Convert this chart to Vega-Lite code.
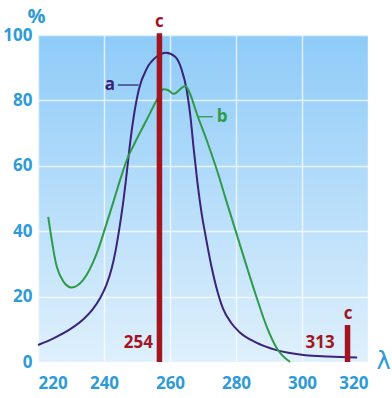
{
  "$schema": "https://vega.github.io/schema/vega-lite/v6.json",
  "width": 330,
  "height": 327,
  "autosize": "none",
  "padding": {"left": 38, "top": 35, "right": 24, "bottom": 36},
  "background": "white",
  "config": {
    "view": {"stroke": null, "fill": {"gradient": "linear", "x1": 0, "y1": 0, "x2": 0, "y2": 1, "stops": [{"offset": 0, "color": "#8ecbf8"}, {"offset": 1, "color": "#dff0fc"}]}},
    "font": "Open Sans"
  },
  "datasets": {
    "curves": [
      {"s": "a", "x": 220, "y": 5.2}, {"s": "a", "x": 225, "y": 7.4}, {"s": "a", "x": 230, "y": 10.2}, {"s": "a", "x": 234, "y": 13.3}, {"s": "a", "x": 236.5, "y": 16}, {"s": "a", "x": 238.8, "y": 19.5}, {"s": "a", "x": 240.7, "y": 23.5}, {"s": "a", "x": 242.3, "y": 28.5}, {"s": "a", "x": 243.5, "y": 34}, {"s": "a", "x": 244.6, "y": 40.5}, {"s": "a", "x": 245.7, "y": 48}, {"s": "a", "x": 246.8, "y": 57}, {"s": "a", "x": 247.8, "y": 66}, {"s": "a", "x": 249, "y": 75}, {"s": "a", "x": 250.6, "y": 83.5}, {"s": "a", "x": 253, "y": 89.8}, {"s": "a", "x": 256, "y": 93.4}, {"s": "a", "x": 258.8, "y": 94.6}, {"s": "a", "x": 261.5, "y": 93.4}, {"s": "a", "x": 263.5, "y": 89.5}, {"s": "a", "x": 265, "y": 83.5}, {"s": "a", "x": 266.2, "y": 75}, {"s": "a", "x": 267.2, "y": 65}, {"s": "a", "x": 268.3, "y": 55}, {"s": "a", "x": 269.5, "y": 46}, {"s": "a", "x": 270.8, "y": 38.5}, {"s": "a", "x": 272.3, "y": 30.5}, {"s": "a", "x": 274, "y": 23}, {"s": "a", "x": 276, "y": 16.5}, {"s": "a", "x": 278.5, "y": 12}, {"s": "a", "x": 281, "y": 9.2}, {"s": "a", "x": 286, "y": 6}, {"s": "a", "x": 292, "y": 3.7}, {"s": "a", "x": 301, "y": 2.1}, {"s": "a", "x": 308, "y": 1.7}, {"s": "a", "x": 316.7, "y": 1.4},
      {"s": "b", "x": 223.1, "y": 44.4}, {"s": "b", "x": 225.7, "y": 29.1}, {"s": "b", "x": 227.7, "y": 24.6}, {"s": "b", "x": 230.2, "y": 22.8}, {"s": "b", "x": 233.7, "y": 25.1}, {"s": "b", "x": 237.8, "y": 33.2}, {"s": "b", "x": 240.8, "y": 42.4}, {"s": "b", "x": 243.3, "y": 50.5}, {"s": "b", "x": 245.3, "y": 57}, {"s": "b", "x": 247, "y": 62}, {"s": "b", "x": 249, "y": 66.3}, {"s": "b", "x": 252.9, "y": 74}, {"s": "b", "x": 256, "y": 80.1}, {"s": "b", "x": 258, "y": 83.4}, {"s": "b", "x": 259.5, "y": 83.1}, {"s": "b", "x": 261, "y": 82}, {"s": "b", "x": 264.7, "y": 84.4}, {"s": "b", "x": 266, "y": 82.2}, {"s": "b", "x": 268.1, "y": 76}, {"s": "b", "x": 271.1, "y": 67.9}, {"s": "b", "x": 274.6, "y": 57.5}, {"s": "b", "x": 277, "y": 49.5}, {"s": "b", "x": 281.7, "y": 34.2}, {"s": "b", "x": 286, "y": 20.5}, {"s": "b", "x": 289.3, "y": 10.8}, {"s": "b", "x": 292.3, "y": 4.3}, {"s": "b", "x": 296.4, "y": 0}
    ],
    "bars": [
      {"x": 256.8, "y": 0, "y2": 100.5},
      {"x": 313.8, "y": 0, "y2": 11.3}
    ],
    "connectors": [
      {"s": "a", "x": 244.2, "x2": 250.5, "y": 84.7},
      {"s": "b", "x": 268.3, "x2": 273, "y": 75}
    ],
    "labels": [
      {"t": "a", "x": 241.8, "y": 84.7, "c": "a"},
      {"t": "b", "x": 275.8, "y": 75, "c": "b"},
      {"t": "c", "x": 256.8, "y": 104, "c": "c"},
      {"t": "c", "x": 314, "y": 14.7, "c": "c"},
      {"t": "254", "x": 250.4, "y": 5.8, "c": "c"},
      {"t": "313", "x": 305.5, "y": 5.8, "c": "c"}
    ]
  },
  "layer": [
    {
      "data": {"name": "curves"},
      "mark": {"type": "line", "interpolate": "monotone", "strokeWidth": 2, "clip": false},
      "encoding": {
        "x": {"field": "x", "type": "quantitative", "scale": {"domain": [220, 320], "nice": false, "zero": false},
          "axis": {"values": [220, 230, 240, 250, 260, 270, 280, 290, 300, 310, 320], "labelExpr": "datum.value % 20 == 0 ? datum.label : ''", "domain": false, "ticks": false, "labelFont": "Open Sans", "labelFontWeight": "bold", "labelFontSize": 17, "labelColor": "#2e9bd8", "labelPadding": 13,
            "gridColor": "white", "gridOpacity": 0.7, "gridWidth": 1.5,
            "title": "λ", "titleFont": "DejaVu Sans", "titleFontSize": 24, "titleFontWeight": "normal", "titleColor": "#2e9bd8", "titleX": 345, "titleY": -1, "titleBaseline": "middle", "titleAlign": "center", "titlePadding": 0}},
        "y": {"field": "y", "type": "quantitative", "scale": {"domain": [0, 100], "nice": false},
          "axis": {"values": [0, 10, 20, 30, 40, 50, 60, 70, 80, 90, 100], "labelExpr": "datum.value % 20 == 0 ? datum.label : ''", "domain": false, "ticks": false, "labelFont": "Open Sans", "labelFontWeight": "bold", "labelFontSize": 17, "labelColor": "#2e9bd8", "labelPadding": 6,
            "gridColor": "white", "gridOpacity": 0.7, "gridWidth": 1.5,
            "title": "%", "titleAngle": 0, "titleFont": "Open Sans", "titleFontSize": 20, "titleFontWeight": "bold", "titleColor": "#2e9bd8", "titleX": -2, "titleY": -19, "titleAlign": "center", "titleBaseline": "middle"}},
        "color": {"field": "s", "type": "nominal", "scale": {"domain": ["a", "b"], "range": ["#3a2379", "#2f9a4a"]}, "legend": null}
      }
    },
    {
      "data": {"name": "connectors"},
      "mark": {"type": "rule", "strokeWidth": 1.3},
      "encoding": {
        "x": {"field": "x", "type": "quantitative"},
        "x2": {"field": "x2"},
        "y": {"field": "y", "type": "quantitative"},
        "color": {"field": "s", "type": "nominal", "scale": {"domain": ["a", "b"], "range": ["#3a2379", "#2f9a4a"]}, "legend": null}
      }
    },
    {
      "data": {"name": "bars"},
      "mark": {"type": "rule", "strokeWidth": 5.5, "color": "#a3141f", "clip": false},
      "encoding": {
        "x": {"field": "x", "type": "quantitative"},
        "y": {"field": "y", "type": "quantitative"},
        "y2": {"field": "y2"}
      }
    },
    {
      "data": {"name": "labels"},
      "mark": {"type": "text", "font": "Open Sans", "fontWeight": "bold", "fontSize": 17, "align": "center", "baseline": "middle", "clip": false},
      "encoding": {
        "x": {"field": "x", "type": "quantitative"},
        "y": {"field": "y", "type": "quantitative"},
        "text": {"field": "t"},
        "color": {"field": "c", "type": "nominal", "scale": {"domain": ["a", "b", "c"], "range": ["#3a2379", "#2f9a4a", "#a3141f"]}, "legend": null}
      }
    }
  ],
  "resolve": {"scale": {"color": "independent"}}
}
